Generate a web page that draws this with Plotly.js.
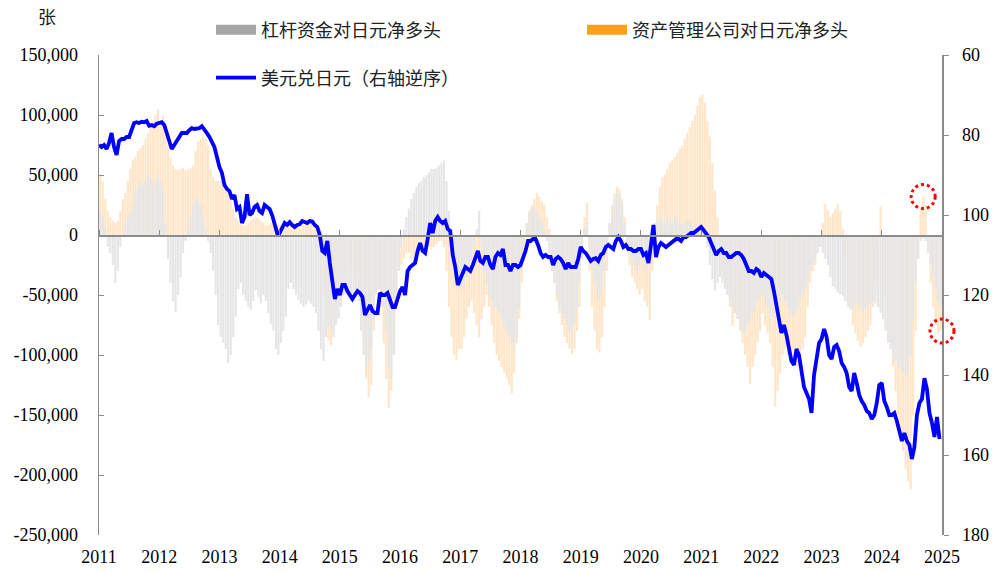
<!DOCTYPE html>
<html>
<head>
<meta charset="utf-8">
<script src="https://cdn.plot.ly/plotly-3.0.1.min.js"></script>
<style>
html,body{margin:0;padding:0;background:#fff;}
#chart{width:1005px;height:572px;}
</style>
</head>
<body>
<div id="chart"></div>
<script>
// ---- data: half-monthly readings, Jan 2011 .. Dec 2024 ----
const seriesStart = 2011;           // first period start (decimal year)
const periodYears = 1 / 24;         // half-month step

// 杠杆资金对日元净多头 (千张)
const levNetK = [
  20,15,5,-10,-15,-25,-40,-30, -10,0,10,15,20,25,35,40, 45,42,45,50,48,42,45,50,          // 2011
  45,35,10,-20,-40,-55,-64,-50, -35,-15,-5,5,15,25,30,30, 25,15,5,-5,-15,-30,-50,-75,      // 2012
  -85,-90,-95,-107,-100,-85,-68,-45, -40,-50,-55,-60,-62,-55,-46,-52, -57,-50,-55,-65,-74,-80,-95,-100, // 2013
  -90,-80,-68,-45,-40,-45,-50,-54, -57,-60,-58,-55,-57,-60,-65,-80, -95,-105,-85,-75,-80,-85,-75,-70, // 2014
  -60,-50,-45,-50,-55,-50,-45,-55, -80,-100,-110,-105,-95,-70,-50,-45, -50,-60,-80,-110,-120,-100,-60,-30, // 2015
  -10,5,15,22,30,35,40,43, 45,48,50,52,55,55,56,58, 60,62,45,20,-10,-30,-40,-45,           // 2016
  -45,-40,-35,-30,-20,-10,5,20, -10,-30,-40,-50,-55,-60,-60,-65, -70,-75,-80,-85,-90,-96,-85,-60, // 2017
  -30,-5,10,18,22,24,20,15, 10,5,-5,-15,-30,-40,-50,-60, -65,-70,-75,-82,-80,-75,-60,-40,  // 2018
  -20,5,10,-10,-26,-40,-50,-54, -45,-30,-10,10,20,30,35,33, 25,10,-5,-15,-20,-25,-30,-25,  // 2019
  -20,-30,-25,-10,5,10,12,15, 12,10,15,12,10,15,12,10, 8,10,12,10,8,5,3,5,                 // 2020
  5,0,-10,-25,-37,-46,-40,-35, -40,-45,-50,-55,-60,-65,-70,-75, -82,-80,-75,-70,-65,-60,-55,-50, // 2021
  -50,-55,-60,-65,-68,-65,-60,-55, -50,-55,-60,-65,-68,-65,-60,-55, -50,-45,-40,-30,-25,-20,-15,-10, // 2022
  -15,-20,-25,-35,-43,-45,-48,-50, -51,-55,-60,-62,-62,-58,-55,-60, -65,-62,-60,-57,-55,-57,-60,-65, // 2023
  -70,-80,-90,-95,-100,-105,-110,-112, -115,-118,-115,-100,-70,-40,-20,-5, -3,-5,-15,-25,-35,-45,-55,-60 // 2024
];

// 资产管理公司对日元净多头 (千张)
const amNetK = [
  50,45,30,20,15,12,10,12, 20,30,35,45,55,62,65,70, 72,75,80,85,90,95,100,105,             // 2011
  95,100,90,75,65,58,55,54, 55,56,54,55,56,58,70,78, 80,82,80,75,55,48,45,45,              // 2012
  45,42,40,38,30,22,15,12, 10,8,8,10,12,14,15,14, 12,10,8,8,10,12,10,8,                    // 2013
  8,7,6,8,10,10,8,6, 5,8,10,12,15,12,8,-10, -30,-50,-70,-88,-92,-80,-70,-60,               // 2014
  -50,-40,-35,-30,-30,-35,-40,-45, -60,-90,-120,-135,-125,-80,-50,-45, -60,-90,-120,-144,-130,-100,-60,-30, // 2015
  -25,-20,-15,-15,-20,-25,-20,-15, -12,-10,-8,-10,-12,-10,-8,-5, -5,-10,-30,-60,-85,-100,-104,-95, // 2016
  -95,-85,-70,-60,-55,-65,-75,-85, -70,-60,-50,-60,-75,-90,-100,-105, -110,-115,-120,-125,-132,-115,-90,-70, // 2017
  -40,-10,10,20,25,30,35,32, 28,25,15,5,-20,-40,-55,-65, -75,-85,-90,-95,-99,-95,-80,-60,  // 2018
  -20,15,27,-30,-60,-80,-95,-98, -85,-60,-30,10,25,35,40,38, 30,15,-10,-25,-35,-40,-45,-50, // 2019
  -45,-55,-60,-71,-30,10,25,40, 48,50,55,60,62,65,68,72, 75,80,85,90,95,100,108,115,        // 2020
  117,110,95,82,60,37,15,-10, -30,-45,-50,-60,-76,-65,-70,-80, -90,-100,-110,-124,-110,-100,-90,-80, // 2021
  -65,-75,-82,-90,-110,-143,-130,-115, -100,-95,-100,-105,-95,-100,-110,-105, -95,-85,-60,-40,-30,-25,-15,-10, // 2022
  10,26,20,15,18,22,26,20, 5,-20,-45,-60,-75,-82,-88,-93, -90,-85,-80,-75,-60,-40,-10,24,   // 2023
  -30,-50,-70,-90,-110,-130,-150,-165, -180,-195,-205,-212,-150,-80,-20,20, 32,25,-10,-40,-60,-75,-82,-80 // 2024
];

// 美元兑日元
const usdjpy = [
  82.5,83,82.5,83.5,82,79.5,83,85, 81.5,81,81,80.5,80.5,79,77,76.8, 77,76.7,76.8,76.5,77.7,77.5,77.8,77.2, // 2011
  76.9,76.8,77.5,79.5,81.5,83.5,82.5,81.5, 80.5,79.5,79.5,79.5,78.8,78.3,78.5,78.5, 78.3,77.8,78.5,79.5,80.5,82,83,85.5, // 2012
  88,89.5,92.5,93.5,94,96,95,98.5, 98,102,100.5,94.8,100,99.5,98,97.5, 99,99.5,97.5,98,98.5,100,102.5,104.5, // 2013
  104.5,103,102,102.5,101.8,102.5,103,102.5, 102.3,101.5,101.8,102,101.5,101.6,102.5,103, 105,109,109.5,106.5,112,116,121,118.5, // 2014
  120,117.5,117.5,119,120,121,120,119, 119.5,120.5,125,123.5,122.5,124,124.5,124.5, 119.5,120,120,119.5,121,123,123,121, // 2015
  119,118,120,114,113,112.5,112,109, 107,109,109.5,106,102,104.5,101.5,100.5, 101.5,102,101.5,103.5,104,110,113,117.5, // 2016
  116,114,113,113.5,114,112.5,111,109, 111.5,112,110.5,110.5,112.5,113.5,110.5,109.5, 110,108.5,112.5,112.5,114,112.5,112.5,113, // 2017
  112.5,111,109,106.5,106.5,106,106,107.5, 109.5,110.5,110,110.5,110.5,112.5,111,110.5, 111,112,113.5,112,113,113,113,111, // 2018
  108,109,109.5,110.5,111.5,111,110.8,111.5, 110,109.5,108,107.5,108,108.5,106.5,105.5, 106.5,108,107.5,108.5,108.5,109,109,108.5, // 2019
  108.5,110,109.5,112,107.5,102.5,110.5,108, 107,107.5,108,107.5,107,106.5,106,106, 106.5,105.5,105.5,105,104.5,104.5,104,103.5, // 2020
  103,103.8,104.5,105.5,107,108.5,110,109, 108.5,109.5,109.5,110.5,110.5,110,109.5,109.5, 110,111,112.5,114,114,114.5,113.5,114, // 2021
  115.5,114.5,115,115.5,116,119,122,126, 129.5,127.5,130,134,136.5,137.5,133.5,135, 138.5,143,144.5,146,149.5,140,136,132, // 2022
  131,128.5,130.5,135,136,133,132.5,134, 137,138,139.5,143,144,139.5,142,145, 146.5,147.5,149,149.5,151,150,147,142.5, // 2023
  142,146.5,148,150,150,149.5,151.5,154, 156.5,154.5,156.5,157.5,161,158,150,147, 146,140.8,143.5,149.5,152,155.5,150.5,156 // 2024
];

const yearTicks = [2011,2012,2013,2014,2015,2016,2017,2018,2019,2020,2021,2022,2023,2024,2025];
const leftTicks = [150000,100000,50000,0,-50000,-100000,-150000,-200000,-250000];
const rightTicks = [60,80,100,120,140,160,180];

const nameLev = '杠杆资金对日元净多头';
const nameAm = '资产管理公司对日元净多头';
const nameFx = '美元兑日元（右轴逆序）';
const unitLabel = '张';

// ---- build ----
const FONT = "'Liberation Serif', 'Times New Roman', 'Noto Sans CJK SC', serif";
const leftRange = [leftTicks[leftTicks.length - 1], leftTicks[0]];
const rightRange = [rightTicks[rightTicks.length - 1], rightTicks[0]]; // reversed
const xRange = [yearTicks[0], yearTicks[yearTicks.length - 1]];
const zeroPos = (0 - leftRange[0]) / (leftRange[1] - leftRange[0]);
const toPaperX = v => (v - xRange[0]) / (xRange[1] - xRange[0]);
const toPaperY = v => (v - leftRange[0]) / (leftRange[1] - leftRange[0]);

const barX0 = seriesStart + periodYears / 2;

const traces = [
  { type: 'bar', x0: barX0, dx: periodYears, y: amNetK.map(v => v * 1000),
    marker: { color: '#ffe6c8', line: { width: 0 } }, showlegend: false, hoverinfo: 'skip' },
  { type: 'bar', x0: barX0, dx: periodYears, y: levNetK.map(v => v * 1000),
    marker: { color: '#e6e6e6', line: { width: 0 } }, showlegend: false, hoverinfo: 'skip' },
  { type: 'scatter', mode: 'lines', x0: seriesStart, dx: periodYears, y: usdjpy,
    xaxis: 'x2', yaxis: 'y2', line: { color: '#0000ff', width: 3.8 },
    showlegend: false, hoverinfo: 'skip' },
  // legend entries
  { type: 'scatter', mode: 'lines', x: [null], y: [null], name: nameLev,
    line: { color: '#a6a6a6', width: 11 }, legend: 'legend' },
  { type: 'scatter', mode: 'lines', x: [null], y: [null], name: nameAm,
    line: { color: '#ff9f1c', width: 11 }, legend: 'legend2' },
  { type: 'scatter', mode: 'lines', x: [null], y: [null], name: nameFx,
    line: { color: '#0000ff', width: 3.8 }, legend: 'legend3', xaxis: 'x2', yaxis: 'y2' }
];

// highlight circles: latest orange positive peak and latest reading (drawn unclipped)
const lastYearAm = amNetK.slice(-24);
const peakIdx = lastYearAm.indexOf(Math.max(...lastYearAm));
const peakX = barX0 + (amNetK.length - 24 + peakIdx) * periodYears;
const peakY = lastYearAm[peakIdx] * 1000;
const lastY = amNetK[amNetK.length - 1] * 1000;
const circ = (xa, ya) => ({ type: 'circle', xref: 'paper', yref: 'paper', xsizemode: 'pixel', ysizemode: 'pixel',
  xanchor: toPaperX(xa), yanchor: toPaperY(ya), x0: -12, x1: 12, y0: -12, y1: 12,
  line: { color: '#ff0000', width: 3, dash: 'dot' }, layer: 'above' });

const legendBase = { xref: 'container', yref: 'container', xanchor: 'left', yanchor: 'middle',
  bgcolor: 'rgba(0,0,0,0)', font: { family: FONT, size: 18, color: '#222' }, itemwidth: 40 };

const axisGray = '#8c8c8c';
const layout = {
  width: 1005, height: 572,
  margin: { l: 99, r: 63, t: 55, b: 37, autoexpand: false },
  paper_bgcolor: '#fff', plot_bgcolor: '#fff',
  font: { family: FONT, size: 18, color: '#000' },
  barmode: 'overlay', bargap: 0.12,
  showlegend: true,
  legend: Object.assign({}, legendBase, { x: 211 / 1005, y: 1 - 30 / 572 }),
  legend2: Object.assign({}, legendBase, { x: 582 / 1005, y: 1 - 30 / 572 }),
  legend3: Object.assign({}, legendBase, { x: 211 / 1005, y: 1 - 78 / 572 }),
  xaxis: { range: xRange, tickmode: 'array', tickvals: yearTicks, ticktext: yearTicks.map(String),
    ticks: '', showline: false, showgrid: false, zeroline: false, ticklabelstandoff: 9, tickangle: 0,
    automargin: false, tickfont: { family: FONT, size: 18, color: '#000' } },
  xaxis2: { range: xRange, overlaying: 'x', anchor: 'free', position: zeroPos, side: 'top',
    tickmode: 'array', tickvals: yearTicks, ticks: 'outside', ticklen: 5, tickcolor: axisGray,
    showticklabels: false, showline: true, linecolor: axisGray, linewidth: 1.5, showgrid: false, zeroline: false },
  yaxis: { range: leftRange, tickmode: 'array', tickvals: leftTicks,
    ticktext: leftTicks.map(v => v.toLocaleString('en-US')), automargin: false,
    ticks: 'inside', ticklen: 5, tickcolor: axisGray, showline: true, linecolor: axisGray, linewidth: 1.5,
    showgrid: false, zeroline: false, ticklabelstandoff: 16,
    tickfont: { family: FONT, size: 18, color: '#000' } },
  yaxis2: { range: rightRange, overlaying: 'y', anchor: 'x2', side: 'right', automargin: false,
    tickmode: 'array', tickvals: rightTicks, ticktext: rightTicks.map(String),
    ticks: 'outside', ticklen: 5, tickcolor: axisGray, showline: true, linecolor: axisGray, linewidth: 1.5,
    showgrid: false, zeroline: false, ticklabelstandoff: 10,
    tickfont: { family: FONT, size: 18, color: '#000' } },
  shapes: [circ(peakX, peakY), circ(xRange[1], lastY)],
  annotations: [{ text: unitLabel, xref: 'paper', yref: 'paper', x: (47 - 99) / 843, y: (535 - 18) / 480,
    showarrow: false, xanchor: 'center', yanchor: 'middle', font: { family: FONT, size: 18, color: '#222' } }]
};

Plotly.newPlot('chart', traces, layout, { staticPlot: true, displayModeBar: false });
</script>
</body>
</html>
